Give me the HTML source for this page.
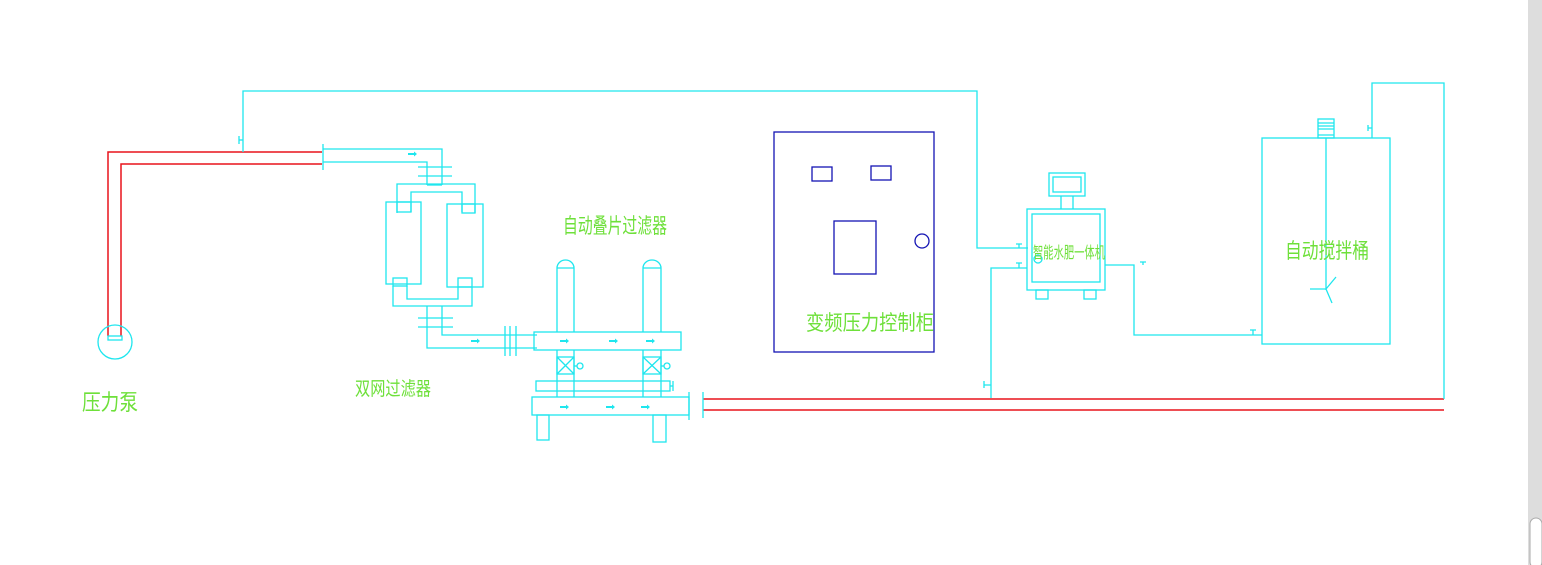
<!DOCTYPE html>
<html><head><meta charset="utf-8"><style>
html,body{margin:0;padding:0;background:#fff;width:1542px;height:565px;overflow:hidden}
svg{display:block}
text{font-family:"Liberation Sans","Noto Sans CJK SC",sans-serif;fill:#6ee03a}
</style></head><body>
<svg width="1542" height="565" viewBox="0 0 1542 565" xmlns="http://www.w3.org/2000/svg">
<rect x="1528" y="0" width="14" height="565" fill="#dddddd"/>
<rect x="1530" y="518" width="12" height="50" rx="6" fill="#fff" stroke="#aaa"/>
<g fill="none" stroke="#e8141c" stroke-width="1.5">
<polyline points="108,336 108,152 322,152"/>
<polyline points="121,336 121,164 322,164"/>
<line x1="703" y1="399" x2="1444" y2="399"/>
<line x1="703" y1="410" x2="1444" y2="410"/>
</g>
<g fill="none" stroke="#1ee6ee" stroke-width="1.3">
<!-- pump -->
<circle cx="115" cy="342" r="17"/>
<rect x="108" y="336" width="14" height="4"/>
<!-- top return -->
<polyline points="243,152 243,91 977,91 977,248 1028,248"/>
<line x1="239" y1="136" x2="239" y2="144"/><line x1="239" y1="140" x2="243" y2="140"/>
<!-- to double filter -->
<line x1="323" y1="144" x2="323" y2="170"/>
<polyline points="323,149 442,149 442,185"/>
<polyline points="323,162 427,162 427,185"/>
<line x1="418" y1="167" x2="452" y2="167"/><line x1="418" y1="176" x2="452" y2="176"/>
<line x1="427" y1="185" x2="442" y2="185"/>
<polyline points="397,213 397,184 475,184 475,213"/>
<polyline points="411,212 411,192 462,192 462,212"/>
<rect x="386" y="202" width="35" height="82"/>
<rect x="447" y="204" width="36" height="83"/>
<rect x="397" y="202" width="14" height="10"/>
<rect x="462" y="204" width="13" height="9"/>
<rect x="393" y="278" width="14" height="8"/>
<rect x="458" y="278" width="14" height="9"/>
<polyline points="393,286 393,306 472,306 472,287"/>
<polyline points="407,286 407,299 458,299 458,287"/>
<polyline points="427,306 427,348 537,348"/>
<polyline points="442,306 442,335 537,335"/>
<line x1="418" y1="318" x2="453" y2="318"/><line x1="418" y1="327" x2="453" y2="327"/>
<line x1="505" y1="326" x2="505" y2="356"/><line x1="510" y1="326" x2="510" y2="356"/><line x1="516" y1="326" x2="516" y2="356"/>
<!-- disc filter -->
<rect x="534" y="332" width="147" height="18"/>
<path d="M557,332 V268 A8.5,8 0 0 1 574,268 V332 M557,268 H574"/>
<path d="M643,332 V268 A9,8 0 0 1 661,268 V332 M643,268 H661"/>
<path d="M557,350 V397 M574,350 V397 M643,350 V397 M661,350 V397"/>
<rect x="557" y="357" width="17" height="17"/><path d="M557,357 L574,374 M574,357 L557,374"/>
<rect x="643" y="357" width="18" height="17"/><path d="M643,357 L661,374 M661,357 L643,374"/>
<circle cx="580" cy="366" r="3"/><circle cx="667" cy="366" r="3"/>
<line x1="574" y1="366" x2="577" y2="366"/><line x1="661" y1="366" x2="664" y2="366"/>
<rect x="536" y="381" width="134" height="10"/>
<line x1="670" y1="386" x2="673" y2="386"/><line x1="673" y1="381" x2="673" y2="391"/>
<rect x="532" y="397" width="157" height="18"/>
<line x1="689" y1="392" x2="689" y2="420"/><line x1="703" y1="392" x2="703" y2="418"/>
<rect x="537" y="415" width="12" height="25"/>
<rect x="653" y="415" width="13" height="27"/>
<!-- machine -->
<rect x="1049" y="173" width="36" height="23"/><rect x="1053" y="177" width="28" height="15"/>
<line x1="1061" y1="196" x2="1061" y2="209"/><line x1="1073" y1="196" x2="1073" y2="209"/>
<rect x="1027" y="209" width="78" height="81"/>
<rect x="1032" y="214" width="68" height="68"/>
<rect x="1036" y="290" width="12" height="9"/><rect x="1084" y="290" width="12" height="9"/>
<circle cx="1038" cy="259" r="4"/>
<polyline points="1027,268 991,268 991,398"/>
<path d="M1016,244 H1022 M1019,244 V248 M1016,263 H1022 M1019,263 V268 M984,381 V388 M984,385 H991"/>
<polyline points="1105,265 1134,265 1134,335 1262,335"/>
<path d="M1140,262 H1146 M1143,262 V265 M1250,330 H1256 M1253,330 V335"/>
<!-- tank -->
<rect x="1262" y="138" width="128" height="206"/>
<rect x="1318" y="119" width="16" height="19"/>
<path d="M1318,123 H1334 M1318,126 H1334 M1318,129 H1334 M1318,135 H1334"/>
<path d="M1326,138 V290 M1310,289 H1326 L1336,277 M1326,289 L1332,303"/>
<polyline points="1372,138 1372,83 1444,83 1444,399"/>
<path d="M1368,125 V131 M1368,128 H1372"/>
</g>
<g fill="#1ee6ee">
<path d="M408,153 l6,0 0,-1.5 3,2.5 -3,2.5 0,-1.5 -6,0z"/>
<path d="M471,340 l6,0 0,-1.5 3,2.5 -3,2.5 0,-1.5 -6,0z"/>
<path d="M560,340 l6,0 0,-1.5 3,2.5 -3,2.5 0,-1.5 -6,0z"/>
<path d="M609,340 l6,0 0,-1.5 3,2.5 -3,2.5 0,-1.5 -6,0z"/>
<path d="M646,340 l6,0 0,-1.5 3,2.5 -3,2.5 0,-1.5 -6,0z"/>
<path d="M560,406 l6,0 0,-1.5 3,2.5 -3,2.5 0,-1.5 -6,0z"/>
<path d="M606,406 l6,0 0,-1.5 3,2.5 -3,2.5 0,-1.5 -6,0z"/>
<path d="M641,406 l6,0 0,-1.5 3,2.5 -3,2.5 0,-1.5 -6,0z"/>
</g>
<!-- cabinet -->
<g fill="none" stroke="#1414b4" stroke-width="1.3">
<rect x="774" y="132" width="160" height="220"/>
<rect x="812" y="167" width="20" height="14"/>
<rect x="871" y="166" width="20" height="14"/>
<rect x="834" y="221" width="42" height="53"/>
<circle cx="922" cy="241" r="7"/>
</g>
<text x="82" y="410" font-size="22" textLength="56" lengthAdjust="spacingAndGlyphs">压力泵</text>
<text x="355" y="395" font-size="19" textLength="76" lengthAdjust="spacingAndGlyphs">双网过滤器</text>
<text x="563" y="233" font-size="21" textLength="104" lengthAdjust="spacingAndGlyphs">自动叠片过滤器</text>
<text x="806" y="330" font-size="21" textLength="128" lengthAdjust="spacingAndGlyphs">变频压力控制柜</text>
<text x="1033" y="258" font-size="16" textLength="72" lengthAdjust="spacingAndGlyphs">智能水肥一体机</text>
<text x="1285" y="258" font-size="21" textLength="84" lengthAdjust="spacingAndGlyphs">自动搅拌桶</text>
</svg>
</body></html>
